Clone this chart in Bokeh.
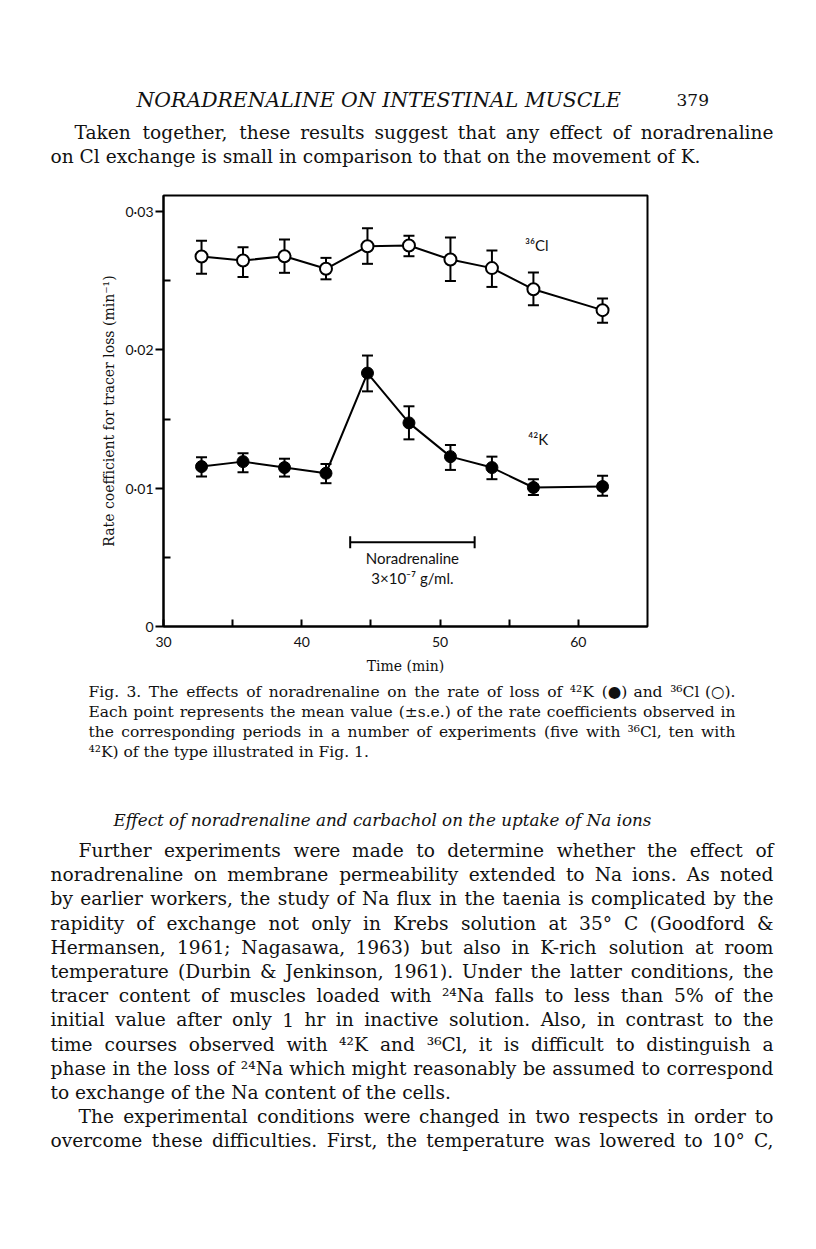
from bokeh.plotting import figure
from bokeh.models import Range1d, Whisker, TeeHead, ColumnDataSource, FixedTicker, CustomJSTickFormatter
from bokeh.core.properties import value
from bokeh.embed import file_html
from bokeh.resources import INLINE

# ---------------- chart data ----------------
times = [32.75, 35.75, 38.75, 41.75, 44.75, 47.75, 50.75, 53.75, 56.75, 61.75]
cl_mean = [0.02675, 0.02646, 0.02677, 0.02586, 0.02749, 0.02754, 0.02653, 0.02591, 0.02438, 0.02287]
cl_upper = [0.02789, 0.02742, 0.02797, 0.02665, 0.02880, 0.02825, 0.02813, 0.02718, 0.02560, 0.02371]
cl_lower = [0.02550, 0.02526, 0.02557, 0.02510, 0.02622, 0.02677, 0.02498, 0.02455, 0.02323, 0.02196]
k_mean = [0.01156, 0.01192, 0.01149, 0.01108, 0.01832, 0.01472, 0.01228, 0.01149, 0.01005, 0.01012]
k_upper = [0.01223, 0.01252, 0.01213, 0.01175, 0.01959, 0.01592, 0.01312, 0.01228, 0.01065, 0.01089]
k_lower = [0.01084, 0.01115, 0.01084, 0.01036, 0.01700, 0.01353, 0.01132, 0.01065, 0.00950, 0.00945]

x_ticks = [30, 40, 50, 60]
x_minor = [35, 45, 55]
y_ticks = [0, 0.01, 0.02, 0.03]
y_minor = [0.005, 0.015, 0.025]

nor_start = [43.5]
nor_end = [52.5]
nor_level = [0.0061]

# ---------------- page text ----------------
header_text = ["NORADRENALINE ON INTESTINAL MUSCLE"]
page_no = ["379"]
top_lines = [
    "Taken together, these results suggest that any effect of noradrenaline",
    "on Cl exchange is small in comparison to that on the movement of K.",
]
caption_lines = [
    "Fig. 3.  The effects of noradrenaline on the rate of loss of \u2074\u00b2K (\u25cf) and \u00b3\u2076Cl (\u25cb).",
    "Each point represents the mean value (\u00b1s.e.) of the rate coefficients observed in",
    "the corresponding periods in a number of experiments (five with \u00b3\u2076Cl, ten with",
    "\u2074\u00b2K) of the type illustrated in Fig. 1.",
]
section_title = ["Effect of noradrenaline and carbachol on the uptake of Na ions"]
body_lines = [
    "Further experiments were made to determine whether the effect of",
    "noradrenaline on membrane permeability extended to Na ions. As noted",
    "by earlier workers, the study of Na flux in the taenia is complicated by the",
    "rapidity of exchange not only in Krebs solution at 35\u00b0 C (Goodford &",
    "Hermansen, 1961; Nagasawa, 1963) but also in K-rich solution at room",
    "temperature (Durbin & Jenkinson, 1961). Under the latter conditions, the",
    "tracer content of muscles loaded with \u00b2\u2074Na falls to less than 5% of the",
    "initial value after only 1 hr in inactive solution. Also, in contrast to the",
    "time courses observed with \u2074\u00b2K and \u00b3\u2076Cl, it is difficult to distinguish a",
    "phase in the loss of \u00b2\u2074Na which might reasonably be assumed to correspond",
    "to exchange of the Na content of the cells.",
    "The experimental conditions were changed in two respects in order to",
    "overcome these difficulties. First, the temperature was lowered to 10\u00b0 C,",
]
body_indent = [True, False, False, False, False, False, False, False, False, False, False, True, False]
body_last = [False, False, False, False, False, False, False, False, False, False, True, False, False]

SERIF = value("DejaVu Serif")
SANS = value("Lato")
INK = "#111111"
W = 816

# page geometry in page pixels
A_TOP, A_BOT = 0, 180
B_TOP, B_BOT = 180, 680
C_TOP, C_BOT = 680, 1245
FR_L, FR_R, FR_T, FR_B = 163, 647, 195, 626

# approximate DejaVu Serif advance widths (font units of 2048) used to justify lines
_ADV = {" ": 651, ",": 651, ".": 651, ";": 690, ":": 690, "(": 799, ")": 799, "-": 694,
        "&": 1821, "%": 1946, "\u00b0": 1024, "\u00b1": 1716, "\u00d7": 1716,
        "\u25cf": 1600, "\u25cb": 1600, "\u00b2": 821, "\u00b3": 821, "\u2074": 821, "\u2076": 821,
        "A": 1479, "B": 1505, "C": 1493, "D": 1642, "E": 1470, "F": 1405, "G": 1618, "H": 1786,
        "I": 823, "J": 827, "K": 1567, "L": 1378, "M": 2048, "N": 1774, "O": 1675, "P": 1384,
        "Q": 1675, "R": 1565, "S": 1405, "T": 1403, "U": 1737, "V": 1479, "W": 2155, "X": 1491,
        "Y": 1380, "Z": 1405,
        "a": 1220, "b": 1311, "c": 1126, "d": 1311, "e": 1212, "f": 758, "g": 1311, "h": 1329,
        "i": 655, "j": 643, "k": 1251, "l": 655, "m": 1976, "n": 1329, "o": 1233, "p": 1311,
        "q": 1311, "r": 979, "s": 1050, "t": 823, "u": 1329, "v": 1161, "w": 1708, "x": 1161,
        "y": 1161, "z": 1071}


def em_width(s):
    return sum(_ADV.get(ch, 1303 if ch.isdigit() else 1200) for ch in s) / 2048.0


def text_fig(top, bottom):
    return figure(width=W, height=bottom - top, x_range=Range1d(0, W), y_range=Range1d(bottom, top),
                  output_backend="svg", toolbar_location=None, min_border=0,
                  x_axis_type=None, y_axis_type=None, outline_line_color=None)


def add_lines(f, xs, ys, texts, size, style="normal", align="left"):
    f.text(x=xs, y=ys, text=texts, text_font=SERIF, text_font_size=value(size),
           text_font_style=style, text_align=align, text_baseline="alphabetic", text_color=INK)


def add_justified(f, lines, lefts, ys, right, size, last_flags):
    """Justified paragraph lines: words spread so that each line runs from its left edge to `right`."""
    groups = {}  # (font size, align) -> lists
    for line, left, y, last in zip(lines, lefts, ys, last_flags):
        words = line.split()
        if last or len(words) < 2:
            g = groups.setdefault((size, "left"), ([], [], []))
            g[0].append(left); g[1].append(y); g[2].append(line)
            continue
        fs = size
        nat = sum(em_width(w) for w in words) + 0.22 * (len(words) - 1)
        if nat * fs > right - left:
            fs = (right - left) / nat
        widths = [em_width(w) * fs for w in words]
        gap = (right - left - sum(widths)) / (len(words) - 1)
        x = left
        for i, (w, wd) in enumerate(zip(words, widths)):
            key = (round(fs, 2), "right" if i == len(words) - 1 else "left")
            g = groups.setdefault(key, ([], [], []))
            g[0].append(right if i == len(words) - 1 else x)
            g[1].append(y)
            g[2].append(w)
            x += wd + gap
    for (fs, align), (xs, ys_, ts) in groups.items():
        f.text(x=xs, y=ys_, text=ts, text_font=SERIF, text_font_size=value(f"{fs}px"),
               text_align=align, text_baseline="alphabetic", text_color=INK)


# ---------------- top text block ----------------
fa = text_fig(A_TOP, A_BOT)
add_lines(fa, [136], [99], header_text, "20.4px", style="italic")
add_lines(fa, [676], [99], page_no, "17px")
add_justified(fa, top_lines, [74, 50], [132, 156], 773, 18.6, [False, True])

# ---------------- chart ----------------
p = figure(width=W, height=B_BOT - B_TOP, x_range=Range1d(30, 65), y_range=Range1d(0, 0.03116),
           output_backend="svg", toolbar_location=None,
           min_border_left=FR_L, min_border_right=W - FR_R,
           min_border_top=FR_T - B_TOP, min_border_bottom=B_BOT - FR_B)
p.xgrid.visible = False
p.ygrid.visible = False
p.outline_line_color = "black"
p.outline_line_width = 2

cl_src = ColumnDataSource(dict(t=times, m=cl_mean, up=cl_upper, lo=cl_lower))
k_src = ColumnDataSource(dict(t=times, m=k_mean, up=k_upper, lo=k_lower))

for src in (cl_src, k_src):
    p.line("t", "m", source=src, line_color="black", line_width=2)
    p.add_layout(Whisker(base="t", upper="up", lower="lo", source=src, line_width=2, line_color="black",
                         upper_head=TeeHead(size=11, line_width=2, line_color="black"),
                         lower_head=TeeHead(size=11, line_width=2, line_color="black")))

p.scatter("t", "m", source=cl_src, marker="circle", size=12, fill_color="white",
          line_color="black", line_width=2)
p.scatter("t", "m", source=k_src, marker="circle", size=12, fill_color="black",
          line_color="black", line_width=1)

nor_src = ColumnDataSource(dict(y=nor_level, a=nor_start, b=nor_end))
p.add_layout(Whisker(dimension="width", base="y", lower="a", upper="b", source=nor_src,
                     line_width=2, line_color="black",
                     upper_head=TeeHead(size=12, line_width=2, line_color="black"),
                     lower_head=TeeHead(size=12, line_width=2, line_color="black")))
p.text(x=[48, 48], y=[0.00492, 0.00354], text=["Noradrenaline", "3\u00d710\u207b\u2077 g/ml."],
       text_font=SANS, text_font_size=value("15px"), text_align="center", text_baseline="middle",
       text_color=INK)
p.text(x=[57.0, 57.1], y=[0.02755, 0.01359], text=["\u00b3\u2076Cl", "\u2074\u00b2K"],
       text_font=SANS, text_font_size=value("15px"), text_align="center", text_baseline="middle",
       text_color=INK)

xa = p.xaxis[0]
xa.ticker = FixedTicker(ticks=x_ticks, minor_ticks=x_minor)
xa.major_tick_in = 7
xa.major_tick_out = 0
xa.minor_tick_in = 7
xa.minor_tick_out = 0
xa.major_tick_line_width = 2
xa.minor_tick_line_width = 2
xa.axis_line_width = 2
xa.major_label_standoff = 10
xa.major_label_text_font = "Lato"
xa.major_label_text_font_size = "14px"
xa.major_label_text_color = INK
xa.axis_label = "Time (min)"
xa.axis_label_text_font = "DejaVu Serif"
xa.axis_label_text_font_style = "normal"
xa.axis_label_text_font_size = "14px"
xa.axis_label_standoff = 8
xa.axis_label_text_color = INK

ya = p.yaxis[0]
ya.ticker = FixedTicker(ticks=y_ticks, minor_ticks=y_minor)
ya.formatter = CustomJSTickFormatter(code="return tick == 0 ? '0' : tick.toFixed(2).replace('.', '\u00b7');")
ya.major_tick_in = 0
ya.major_tick_out = 8
ya.minor_tick_in = 7
ya.minor_tick_out = 0
ya.major_tick_line_width = 2
ya.minor_tick_line_width = 2
ya.axis_line_width = 2
ya.major_label_standoff = 2
ya.major_label_text_font = "Lato"
ya.major_label_text_font_size = "14px"
ya.major_label_text_color = INK
ya.axis_label = "Rate coefficient for tracer loss (min\u207b\u00b9)"
ya.axis_label_text_font = "DejaVu Serif"
ya.axis_label_text_font_style = "normal"
ya.axis_label_text_font_size = "14px"
ya.axis_label_standoff = 6
ya.axis_label_text_color = INK

# ---------------- bottom text block ----------------
fc = text_fig(C_TOP, C_BOT)
add_justified(fc, caption_lines, [88] * 4, [691, 711, 731, 751], 735, 15.5, [False, False, False, True])
add_lines(fc, [382], [819], section_title, "16.8px", style="italic", align="center")
body_base = [850 + 24.2 * i for i in range(len(body_lines))]
body_x = [78 if ind else 50 for ind in body_indent]
add_justified(fc, body_lines, body_x, body_base, 773, 18.6, body_last)

# three separate roots stacked in the page (no shared layout, so no frame alignment)
open("out.html", "w").write(file_html([fa, p, fc], INLINE))
